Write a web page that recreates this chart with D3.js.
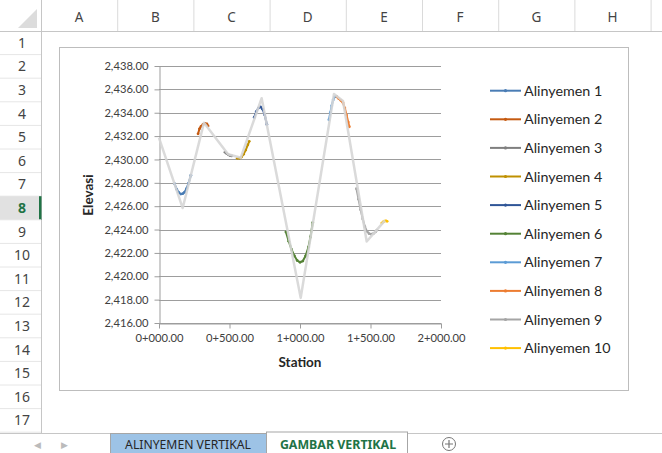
<!DOCTYPE html>
<html>
<head>
<meta charset="utf-8">
<script src="https://cdn.jsdelivr.net/npm/d3@7"></script>
<style>
  body { margin: 0; background: #fff; }
  svg { display: block; }
</style>
</head>
<body>
<svg id="sheet" width="662" height="453"></svg>
<script>
// ---- data (station in m, elevation in m) ----
var seriesNames = ["Alinyemen 1","Alinyemen 2","Alinyemen 3","Alinyemen 4","Alinyemen 5",
                   "Alinyemen 6","Alinyemen 7","Alinyemen 8","Alinyemen 9","Alinyemen 10"];
var seriesColors = ["#4a7db5","#c55a11","#7f7f7f","#bf9000","#2f5597",
                    "#548235","#5b9bd5","#ed7d31","#a5a5a5","#ffc000"];

var alinyemen1 = [[110,2427.92],[125,2427.46],[140,2427.17],[155,2427.04],[168,2427.07],[180,2427.19],[195,2427.50],[210,2427.97],[226,2428.65]];
var alinyemen2 = [[277,2432.19],[287,2432.62],[298,2432.83],[312,2433.00],[326,2433.09],[340,2433.04],[348,2432.87]];
var alinyemen3 = [[468,2430.62],[480,2430.50],[492,2430.40],[504,2430.33],[515,2430.30]];
var alinyemen4 = [[555,2430.10],[570,2430.10],[585,2430.20],[600,2430.45],[615,2430.80],[630,2431.25],[640,2431.55]];
var alinyemen5 = [[675,2433.60],[690,2434.10],[705,2434.40],[720,2434.50],[735,2434.30],[750,2433.80],[765,2433.00]];
var alinyemen6 = [[900,2423.80],[920,2423.00],[940,2422.30],[960,2421.75],[980,2421.35],[1000,2421.20],[1020,2421.30],[1040,2421.75],[1060,2422.50],[1075,2423.40],[1090,2424.60]];
var alinyemen7 = [[1205,2433.40],[1215,2434.00],[1225,2434.60],[1235,2435.10],[1245,2435.35],[1258,2435.40]];
var alinyemen8 = [[1262,2435.35],[1275,2435.20],[1290,2435.05],[1305,2434.85],[1318,2434.40],[1330,2433.80],[1342,2433.20],[1350,2432.80]];
var alinyemen9 = [[1400,2427.50],[1415,2426.60],[1430,2425.70],[1445,2424.90],[1460,2424.25],[1475,2423.85],[1490,2423.65],[1505,2423.60],[1520,2423.65],[1535,2423.80],[1545,2423.95]];
var alinyemen10 = [[1580,2424.55],[1590,2424.65],[1600,2424.72],[1610,2424.75],[1618,2424.70]];

// tangent line through the PVIs (light gray, not in legend)
var pviLine = [[0,2431.85],[168,2425.84],[319,2433.15],[490,2430.45],[580,2430.15],[728,2435.24],
               [1005,2418.15],[1241,2435.60],[1305,2435.00],[1473,2422.98],[1603,2424.78]];

var allSeries = [alinyemen1,alinyemen2,alinyemen3,alinyemen4,alinyemen5,
                 alinyemen6,alinyemen7,alinyemen8,alinyemen9,alinyemen10];

var elevTicks = [2416,2418,2420,2422,2424,2426,2428,2430,2432,2434,2436,2438];
var stationTicks = [0,500,1000,1500,2000];

var colLetters = ["A","B","C","D","E","F","G","H"];
var sheetTabs = ["ALINYEMEN VERTIKAL","GAMBAR VERTIKAL"];

// ---- excel sheet chrome ----
var svg = d3.select("#sheet");
var hdrFont = "'Noto Sans', sans-serif";
var chartFont = "Lato, 'Open Sans', sans-serif";

var rowH = 23.6, headH = 31, rowHeadW = 41, colW = 76.2;

svg.append("rect").attr("width",662).attr("height",453).attr("fill","#fff");

// column header
var cols = svg.append("g");
cols.append("line").attr("x1",0).attr("x2",662).attr("y1",headH+0.5).attr("y2",headH+0.5).attr("stroke","#c6c6c6");
colLetters.forEach(function(c,i){
  var x0 = rowHeadW + i*colW;
  cols.append("line").attr("x1",x0+colW+0.5).attr("x2",x0+colW+0.5).attr("y1",0).attr("y2",headH)
      .attr("stroke","#dadada");
  cols.append("text").attr("x",x0+colW/2).attr("y",22).attr("text-anchor","middle")
      .style("font-family",hdrFont).style("font-size","13.5px").attr("fill","#444").text(c);
});
// corner triangle
svg.append("path").attr("d","M37,9 L37,28 L18,28 Z").attr("fill","#dcdcdc");

// row header
var rows = svg.append("g");
rows.append("line").attr("x1",rowHeadW+0.5).attr("x2",rowHeadW+0.5).attr("y1",0).attr("y2",433).attr("stroke","#c6c6c6");
d3.range(1,18).forEach(function(r){
  var y0 = headH + (r-1)*rowH;
  if (r==8) {
    rows.append("rect").attr("x",0).attr("y",y0).attr("width",rowHeadW).attr("height",rowH).attr("fill","#e1e1e1");
    rows.append("rect").attr("x",rowHeadW-2).attr("y",y0).attr("width",2.5).attr("height",rowH).attr("fill","#217346");
  }
  rows.append("line").attr("x1",0).attr("x2",rowHeadW).attr("y1",y0+rowH).attr("y2",y0+rowH).attr("stroke","#e6e6e6");
  rows.append("text").attr("x",22).attr("y",y0+rowH/2+5).attr("text-anchor","middle")
      .style("font-family",hdrFont).style("font-size","14px")
      .style("font-weight", r==8 ? "bold" : "normal")
      .attr("fill", r==8 ? "#217346" : "#444").text(r);
});

// sheet tabs
var tabs = svg.append("g");
tabs.append("rect").attr("x",0).attr("y",433).attr("width",662).attr("height",20).attr("fill","#fff");
tabs.append("line").attr("x1",0).attr("x2",662).attr("y1",433.5).attr("y2",433.5).attr("stroke","#c6c6c6");
tabs.append("text").attr("x",37).attr("y",448).attr("text-anchor","middle").attr("fill","#bbb")
    .style("font-size","9px").style("font-family",hdrFont).text("\u25C0");
tabs.append("text").attr("x",64).attr("y",448).attr("text-anchor","middle").attr("fill","#bbb")
    .style("font-size","9px").style("font-family",hdrFont).text("\u25B6");
tabs.append("rect").attr("x",110.5).attr("y",433.5).attr("width",156).attr("height",20)
    .attr("fill","#9dc3e6").attr("stroke","#a6a6a6");
tabs.append("text").attr("x",188).attr("y",449).attr("text-anchor","middle").attr("fill","#262626")
    .style("font-family",hdrFont).style("font-size","12.2px").text(sheetTabs[0]);
tabs.append("rect").attr("x",266.5).attr("y",432).attr("width",141).attr("height",22)
    .attr("fill","#fff").attr("stroke","#a6a6a6");
tabs.append("text").attr("x",338).attr("y",449).attr("text-anchor","middle").attr("fill","#217346")
    .style("font-family",hdrFont).style("font-size","12.4px").style("font-weight","bold").text(sheetTabs[1]);
tabs.append("circle").attr("cx",449).attr("cy",444).attr("r",6.5).attr("fill","none").attr("stroke","#777");
tabs.append("path").attr("d","M445,444 H453 M449,440 V448").attr("stroke","#777").attr("stroke-width",1.2);

// ---- chart ----
svg.append("rect").attr("x",59.5).attr("y",47.5).attr("width",569).attr("height",343)
   .attr("fill","#fff").attr("stroke","#bdbdbd");

var x = d3.scaleLinear().domain([0,2000]).range([159,441]);
var y = d3.scaleLinear().domain([2416,2438]).range([323,66]);

var chart = svg.append("g");

// gridlines
chart.append("g").selectAll("line").data(elevTicks).enter().append("line")
  .attr("x1",x(0)).attr("x2",x(2000))
  .attr("y1",function(d){ return Math.round(y(d))+0.5; })
  .attr("y2",function(d){ return Math.round(y(d))+0.5; })
  .attr("stroke","#9d9d9d").attr("stroke-width",1);

var fmtStation = function(d){
  var km = Math.floor(d/1000), m = d - km*1000;
  return km + "+" + ("000"+m).slice(-3) + ".00";
};

var yAxis = chart.append("g").attr("transform","translate(" + (x(0)+0.5) + ",0)")
  .call(d3.axisLeft(y).tickValues(elevTicks).tickFormat(d3.format(",.2f")).tickSize(5).tickPadding(6).tickSizeOuter(0));
var xAxis = chart.append("g").attr("transform","translate(0," + (Math.round(y(2416))+0.5) + ")")
  .call(d3.axisBottom(x).tickValues(stationTicks).tickFormat(fmtStation).tickSize(5).tickPadding(6).tickSizeOuter(0));

[yAxis, xAxis].forEach(function(a){
  a.select(".domain").attr("stroke","#9d9d9d");
  a.selectAll(".tick line").attr("stroke","#9d9d9d");
  a.selectAll(".tick text").attr("fill","#404040").style("font-family",chartFont).style("font-size","11.2px");
});

chart.append("text").attr("transform","translate(93,195) rotate(-90)").attr("text-anchor","middle")
  .style("font-family",chartFont).style("font-size","13.5px").style("font-weight","bold").attr("fill","#262626")
  .text("Elevasi");
chart.append("text").attr("x",300).attr("y",367).attr("text-anchor","middle")
  .style("font-family",chartFont).style("font-size","13.5px").style("font-weight","bold").attr("fill","#262626")
  .text("Station");

var line = d3.line().x(function(d){ return x(d[0]); }).y(function(d){ return y(d[1]); });

// vertical curves
allSeries.forEach(function(s,i){
  var g = chart.append("g");
  g.append("path").datum(s).attr("d",line).attr("fill","none")
    .attr("stroke",seriesColors[i]).attr("stroke-width",2).attr("stroke-linejoin","round");
  g.selectAll("circle").data(s).enter().append("circle")
    .attr("cx",function(d){ return x(d[0]); }).attr("cy",function(d){ return y(d[1]); })
    .attr("r",1.4).attr("fill",seriesColors[i]);
});

// tangent line on top
chart.append("path").datum(pviLine).attr("d",line).attr("fill","none")
  .attr("stroke","#d6d6d6").attr("stroke-width",2.5).attr("stroke-linejoin","round").attr("opacity",0.9);

// legend
var legend = chart.append("g");
seriesNames.forEach(function(n,i){
  var cy = 90.7 + i*28.6;
  legend.append("line").attr("x1",490).attr("x2",521).attr("y1",cy).attr("y2",cy)
    .attr("stroke",seriesColors[i]).attr("stroke-width",2);
  legend.append("circle").attr("cx",505.5).attr("cy",cy).attr("r",1.6).attr("fill",seriesColors[i]);
  legend.append("text").attr("x",524).attr("y",cy+5).style("font-family",chartFont).style("font-size","14.3px")
    .attr("fill","#262626").text(n);
});
</script>
</body>
</html>
